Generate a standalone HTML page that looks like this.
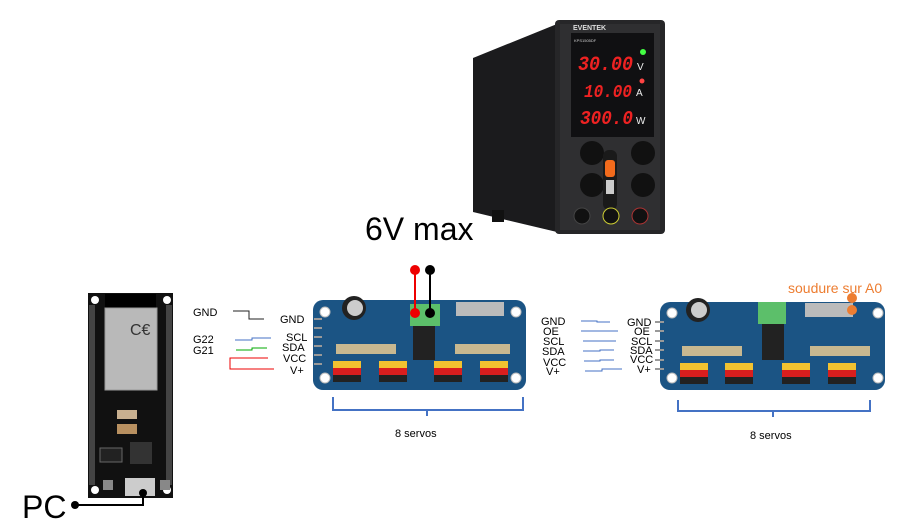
<!DOCTYPE html>
<html><head><meta charset="utf-8"><style>
html,body{margin:0;padding:0;background:#fff;width:913px;height:531px;overflow:hidden}
svg{display:block;font-family:"Liberation Sans",sans-serif}
</style></head><body>
<svg width="913" height="531" viewBox="0 0 913 531" xmlns="http://www.w3.org/2000/svg">
<!-- Power supply -->
<polygon points="473,58 557,24 557,232 473,212" fill="#1b1b1d"/>
<rect x="492" y="210" width="12" height="12" fill="#111"/>
<rect x="555" y="20" width="110" height="214" rx="4" fill="#262628"/>
<rect x="560" y="24" width="100" height="206" fill="#2f2f31"/>
<text x="573" y="30" font-size="7" fill="#ddd" font-weight="bold">EVENTEK</text>
<rect x="571" y="33" width="83" height="104" fill="#101012"/>
<text x="574" y="42" font-size="4" fill="#ccc">KPS1505DF</text>
<circle cx="643" cy="52" r="3" fill="#4f4"/>
<circle cx="642" cy="81" r="2.5" fill="#f44"/>
<text x="578" y="70" font-size="20" fill="#e22" font-style="italic" font-family="Liberation Mono,monospace" font-weight="bold" textLength="55" lengthAdjust="spacingAndGlyphs">30.00</text>
<text x="637" y="70" font-size="10" fill="#eee">V</text>
<text x="584" y="97" font-size="18" fill="#e22" font-style="italic" font-family="Liberation Mono,monospace" font-weight="bold" textLength="48" lengthAdjust="spacingAndGlyphs">10.00</text>
<text x="636" y="96" font-size="10" fill="#eee">A</text>
<text x="580" y="124" font-size="19" fill="#e22" font-style="italic" font-family="Liberation Mono,monospace" font-weight="bold" textLength="53" lengthAdjust="spacingAndGlyphs">300.0</text>
<text x="636" y="124" font-size="10" fill="#eee">W</text>
<circle cx="592" cy="153" r="12" fill="#111"/><circle cx="643" cy="153" r="12" fill="#111"/>
<circle cx="592" cy="185" r="12" fill="#111"/><circle cx="643" cy="185" r="12" fill="#111"/>
<rect x="603" y="150" width="14" height="60" rx="6" fill="#1a1a1a"/>
<rect x="605" y="160" width="10" height="17" rx="3" fill="#f36b1c"/>
<rect x="606" y="180" width="8" height="14" fill="#ccc"/>
<circle cx="582" cy="216" r="8" fill="#111" stroke="#444"/>
<circle cx="611" cy="216" r="8" fill="#111" stroke="#cc3"/>
<circle cx="640" cy="216" r="8" fill="#111" stroke="#a33"/>
<text x="365" y="240" font-size="32" fill="#000">6V max</text>

<!-- ESP32 -->
<rect x="88" y="293" width="85" height="205" fill="#111"/>
<rect x="105" y="294" width="51" height="15" fill="#000"/>
<rect x="105" y="308" width="52" height="82" fill="#b9b9b9" stroke="#999"/>
<text x="130" y="335" font-size="16" fill="#333">C€</text>
<circle cx="95" cy="300" r="4" fill="#fff"/><circle cx="167" cy="300" r="4" fill="#fff"/>
<circle cx="95" cy="490" r="4" fill="#fff"/><circle cx="167" cy="490" r="4" fill="#fff"/>
<g fill="#777"><rect x="89" y="305" width="6" height="180" opacity="0.5"/><rect x="166" y="305" width="6" height="180" opacity="0.5"/></g>
<rect x="117" y="410" width="20" height="9" fill="#c8b090"/>
<rect x="117" y="424" width="20" height="10" fill="#b89060"/>
<rect x="130" y="442" width="22" height="22" fill="#333"/>
<rect x="100" y="448" width="22" height="14" fill="#222" stroke="#666"/>
<rect x="125" y="478" width="30" height="18" fill="#ccc"/>
<rect x="103" y="480" width="10" height="10" fill="#888"/><rect x="160" y="480" width="10" height="10" fill="#888"/>
<polyline points="75,505 143,505 143,493" fill="none" stroke="#000" stroke-width="2"/>
<circle cx="75" cy="505" r="4" fill="#000"/><circle cx="143" cy="493" r="4" fill="#000"/>
<text x="22" y="518" font-size="32" fill="#000">PC</text>

<!-- labels esp side -->
<g font-size="11" fill="#000">
<text x="193" y="316">GND</text><text x="193" y="343">G22</text><text x="193" y="354">G21</text>
<text x="280" y="323">GND</text><text x="286" y="341">SCL</text><text x="282" y="351">SDA</text><text x="283" y="362">VCC</text><text x="290" y="374">V+</text>
</g>
<polyline points="233,311 249,311 249,319 264,319" fill="none" stroke="#222"/>
<polyline points="235,340 252,340 252,338 271,338" fill="none" stroke="#4472c4"/>
<polyline points="236,350 252,350 252,348 267,348" fill="none" stroke="#0a0" />
<polyline points="268,358 230,358 230,369 274,369" fill="none" stroke="#e00"/>

<!-- Board 1 -->
<g>
<rect x="313" y="300" width="213" height="90" rx="10" fill="#1b5484"/>
<circle cx="325" cy="312" r="5" fill="#fff" stroke="#bbb"/><circle cx="325" cy="378" r="5" fill="#fff" stroke="#bbb"/>
<circle cx="516" cy="312" r="5" fill="#fff" stroke="#bbb"/><circle cx="516" cy="378" r="5" fill="#fff" stroke="#bbb"/>
<circle cx="354" cy="308" r="12" fill="#222"/><circle cx="355" cy="308" r="8" fill="#ccc"/>
<rect x="410" y="304" width="30" height="22" fill="#5cbf6a"/>
<rect x="413" y="326" width="22" height="34" fill="#222"/>
<rect x="336" y="344" width="60" height="10" fill="#c8b890"/>
<rect x="455" y="344" width="55" height="10" fill="#c8b890"/>
<rect x="456" y="302" width="48" height="14" fill="#bbb"/>
<g fill="#f2c230"><rect x="333" y="361" width="28" height="7"/><rect x="379" y="361" width="28" height="7"/><rect x="434" y="361" width="28" height="7"/><rect x="480" y="361" width="28" height="7"/></g>
<g fill="#d91e1e"><rect x="333" y="368" width="28" height="7"/><rect x="379" y="368" width="28" height="7"/><rect x="434" y="368" width="28" height="7"/><rect x="480" y="368" width="28" height="7"/></g>
<g fill="#222"><rect x="333" y="375" width="28" height="7"/><rect x="379" y="375" width="28" height="7"/><rect x="434" y="375" width="28" height="7"/><rect x="480" y="375" width="28" height="7"/></g>
<g stroke="#999" stroke-width="2"><line x1="314" y1="319" x2="322" y2="319"/><line x1="314" y1="328" x2="322" y2="328"/><line x1="314" y1="337" x2="322" y2="337"/><line x1="314" y1="346" x2="322" y2="346"/><line x1="314" y1="355" x2="322" y2="355"/><line x1="314" y1="364" x2="322" y2="364"/></g>
</g>
<line x1="415" y1="270" x2="415" y2="313" stroke="#e00" stroke-width="2"/>
<line x1="430" y1="270" x2="430" y2="313" stroke="#000" stroke-width="2"/>
<circle cx="415" cy="270" r="5" fill="#e00"/><circle cx="415" cy="313" r="5" fill="#e00"/>
<circle cx="430" cy="270" r="5" fill="#000"/><circle cx="430" cy="313" r="5" fill="#000"/>
<path d="M333,397 V410 H427 V416 M427,410 H523 V397" fill="none" stroke="#4472c4" stroke-width="2"/>
<text x="395" y="437" font-size="11">8 servos</text>

<!-- labels between -->
<g font-size="11" fill="#000">
<text x="541" y="325">GND</text><text x="543" y="335">OE</text><text x="543" y="345">SCL</text><text x="542" y="355">SDA</text><text x="543" y="366">VCC</text><text x="546" y="375">V+</text>
<text x="627" y="326">GND</text><text x="634" y="335">OE</text><text x="631" y="345">SCL</text><text x="630" y="354">SDA</text><text x="630" y="363">VCC</text><text x="637" y="373">V+</text>
</g>
<g stroke="#4472c4" fill="none">
<polyline points="581,321 597,321 597,322 610,322"/>
<line x1="581" y1="331" x2="618" y2="331"/>
<line x1="583" y1="341" x2="616" y2="341"/>
<polyline points="583,351 600,351 600,350 614,350"/>
<polyline points="584,361 600,361 600,360 614,360"/>
<polyline points="585,371 602,371 602,369 622,369"/>
</g>

<!-- Board 2 -->
<g>
<rect x="660" y="302" width="225" height="88" rx="10" fill="#1b5484"/>
<circle cx="672" cy="313" r="5" fill="#fff" stroke="#bbb"/><circle cx="672" cy="378" r="5" fill="#fff" stroke="#bbb"/>
<circle cx="878" cy="313" r="5" fill="#fff" stroke="#bbb"/><circle cx="878" cy="378" r="5" fill="#fff" stroke="#bbb"/>
<circle cx="698" cy="310" r="12" fill="#222"/><circle cx="699" cy="310" r="8" fill="#ccc"/>
<rect x="758" y="302" width="28" height="22" fill="#5cbf6a"/>
<rect x="762" y="324" width="22" height="36" fill="#222"/>
<rect x="682" y="346" width="60" height="10" fill="#c8b890"/>
<rect x="810" y="346" width="60" height="10" fill="#c8b890"/>
<rect x="805" y="303" width="48" height="14" fill="#bbb"/>
<g fill="#f2c230"><rect x="680" y="363" width="28" height="7"/><rect x="725" y="363" width="28" height="7"/><rect x="782" y="363" width="28" height="7"/><rect x="828" y="363" width="28" height="7"/></g>
<g fill="#d91e1e"><rect x="680" y="370" width="28" height="7"/><rect x="725" y="370" width="28" height="7"/><rect x="782" y="370" width="28" height="7"/><rect x="828" y="370" width="28" height="7"/></g>
<g fill="#222"><rect x="680" y="377" width="28" height="7"/><rect x="725" y="377" width="28" height="7"/><rect x="782" y="377" width="28" height="7"/><rect x="828" y="377" width="28" height="7"/></g>
<g stroke="#999" stroke-width="2"><line x1="655" y1="322" x2="664" y2="322"/><line x1="655" y1="331" x2="664" y2="331"/><line x1="655" y1="341" x2="664" y2="341"/><line x1="655" y1="350" x2="664" y2="350"/><line x1="655" y1="360" x2="664" y2="360"/><line x1="655" y1="369" x2="664" y2="369"/></g>
</g>
<circle cx="852" cy="298" r="5" fill="#ed7d31"/><circle cx="852" cy="310" r="5" fill="#ed7d31"/>
<text x="788" y="293" font-size="14" fill="#ed7d31">soudure sur A0</text>
<path d="M678,400 V411 H773 V417 M773,411 H870 V400" fill="none" stroke="#4472c4" stroke-width="2"/>
<text x="750" y="439" font-size="11">8 servos</text>
</svg>
</body></html>
